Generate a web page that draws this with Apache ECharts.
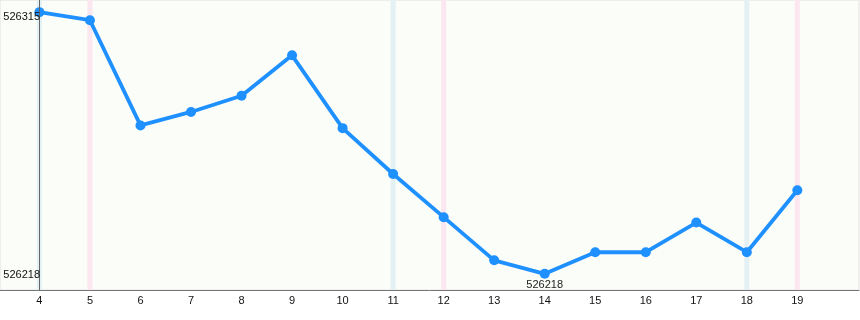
<!DOCTYPE html>
<html>
<head>
<meta charset="utf-8">
<script src="https://cdn.jsdelivr.net/npm/echarts@6/dist/echarts.min.js"></script>
<style>html,body{margin:0;padding:0;background:#fff}#c{width:860px;height:320px}</style>
</head>
<body>
<div id="c"></div>
<script>
const days = [4, 5, 6, 7, 8, 9, 10, 11, 12, 13, 14, 15, 16, 17, 18, 19];
const values = [526315, 526312, 526273, 526278, 526284, 526299, 526272, 526255, 526239, 526223, 526218, 526226, 526226, 526237, 526226, 526249];
const blueDays = [4, 11, 18];
const pinkDays = [5, 12, 19];
const yMaxLabel = [526315];
const yMinLabel = [526218];
const labeledDay = 14;

const chart = echarts.init(document.getElementById('c'), null, {renderer: 'canvas'});
const font = 'Liberation Sans, Arial, sans-serif';
const band = (d, color) => [{xAxis: d - 0.05, itemStyle: {color: color}}, {xAxis: d + 0.05}];
const areas = blueDays.map(d => band(d, '#e4f1f4')).concat(pinkDays.map(d => band(d, '#fce6f0')));
const yRange = {min: 526212, max: 526319.5};
const yAx = (vals, lh) => ({
  type: 'value', min: yRange.min, max: yRange.max, z: 10,
  axisLine: {show: false}, axisTick: {show: false}, splitLine: {show: false},
  offset: -40, position: 'left',
  axisLabel: {customValues: vals, formatter: v => String(v), color: '#111', fontFamily: font, fontSize: 11, margin: 0, verticalAlign: 'top', lineHeight: lh}
});

chart.setOption({
  animation: false,
  backgroundColor: '#ffffff',
  grid: {left: 0, right: 1, top: 0, bottom: 30, show: true, backgroundColor: '#fbfdf9', borderColor: '#e2e2e2', borderWidth: 1},
  xAxis: {
    type: 'value', min: 3.22, max: 20.22,
    axisLine: {show: true, lineStyle: {color: '#777', width: 1}},
    axisTick: {show: false},
    splitLine: {show: false},
    axisLabel: {customValues: days, color: '#111', fontFamily: font, fontSize: 11, margin: 5}
  },
  yAxis: [yAx(yMaxLabel, 9), yAx(yMinLabel, 3)],
  series: [{
    type: 'line',
    yAxisIndex: 0,
    data: days.map((d, i) => ({
      value: [d, values[i]],
      label: d === labeledDay ? {show: true, position: 'bottom', distance: 1, color: '#222', fontFamily: font, fontSize: 11, formatter: p => p.value[1]} : undefined
    })),
    lineStyle: {color: '#1e90ff', width: 3.8},
    itemStyle: {color: '#1e90ff'},
    symbol: 'circle', symbolSize: 10,
    markArea: {silent: true, data: areas},
    markLine: {silent: true, symbol: 'none', label: {show: false}, lineStyle: {color: '#666', width: 1, type: 'solid'}, data: [{xAxis: 4}]}
  }]
});
</script>
</body>
</html>
